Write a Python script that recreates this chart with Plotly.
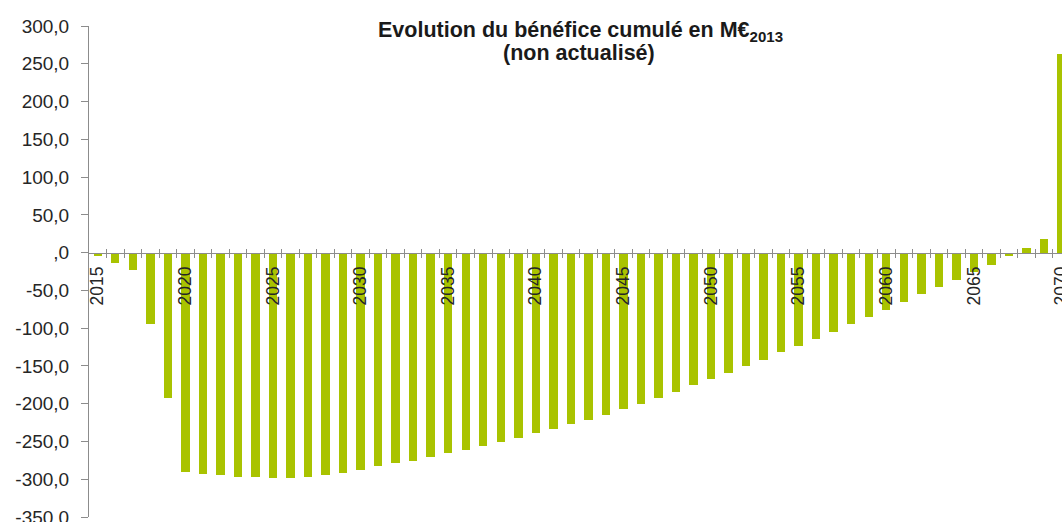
import plotly.graph_objects as go

years = list(range(2015, 2071))
benefice = [
    -4.5, -14, -23.5, -94.5, -192.5,
    -291, -293.5, -295, -296.5, -297.5,
    -298, -298, -297, -295, -291.5,
    -288, -283, -279, -275.5, -270.5,
    -265.5, -261, -255.5, -250.5, -245,
    -239, -233, -227, -221, -214.5,
    -207.5, -200, -192.5, -184, -175.5,
    -167.5, -159, -150, -141.5, -132,
    -123, -114.5, -104.5, -94.5, -85.5,
    -75.5, -65.5, -55, -45.5, -36,
    -26, -16.5, -4.5, 6.5, 17.5,
    263,
]

title_line1 = "<b>Evolution du bénéfice cumulé en M€<sub>2013</sub></b>"
title_line2 = "<b>(non actualisé)</b>"

y_ticks = [300, 250, 200, 150, 100, 50, 0, -50, -100, -150, -200, -250, -300, -350]
y_ticktext = ["300,0", "250,0", "200,0", "150,0", "100,0", "50,0", ",0", "-50,0",
              "-100,0", "-150,0", "-200,0", "-250,0", "-300,0", "-350,0"]
x_label_years = list(range(2015, 2071, 5))
boundaries = [y + 0.5 for y in years[:-1]]

YMIN, YMAX = -350, 300
XMIN, XMAX = 2014.5, 2070.03
zero_pos = (0 - YMIN) / (YMAX - YMIN)

W, H = 1062, 522
ML, MR, MT, MB = 89, 0, 26, 5
plot_w = W - ML - MR
plot_h = H - MT - MB


def px_to_paper_x(px):
    return (px - ML) / plot_w


def px_to_paper_y(py):
    return (H - MB - py) / plot_h


bar_color = "#A9C300"
axis_color = "#8C8C8C"
font_family = "Liberation Sans, Arial, sans-serif"

fig = go.Figure()
fig.add_trace(go.Bar(x=years, y=benefice, width=0.48, marker=dict(color=bar_color, line=dict(width=0)),
                     showlegend=False, hoverinfo="x+y"))
fig.add_trace(go.Scatter(x=[XMIN], y=[0], xaxis="x2", mode="markers",
                         marker=dict(size=1, opacity=0), showlegend=False, hoverinfo="skip"))

fig.add_annotation(text=title_line1, xref="paper", yref="paper",
                   x=px_to_paper_x(580), y=px_to_paper_y(31), xanchor="center", yanchor="middle",
                   showarrow=False, font=dict(size=21.5, family=font_family, color="#1a1a1a"))
fig.add_annotation(text=title_line2, xref="paper", yref="paper",
                   x=px_to_paper_x(579), y=px_to_paper_y(53), xanchor="center", yanchor="middle",
                   showarrow=False, font=dict(size=21.5, family=font_family, color="#1a1a1a"))

fig.update_layout(
    width=W, height=H,
    margin=dict(l=ML, r=MR, t=MT, b=MB, autoexpand=False),
    paper_bgcolor="white", plot_bgcolor="white",
    font=dict(family=font_family, color="#262626"),
    bargap=0,
    xaxis=dict(
        range=[XMIN, XMAX], anchor="free", position=zero_pos, automargin=False,
        showline=True, linecolor=axis_color, linewidth=1,
        showgrid=False, zeroline=False,
        tickmode="array", tickvals=x_label_years, ticktext=[str(v) for v in x_label_years],
        ticks="", tickangle=-90, tickfont=dict(size=17.5, color="#262626"),
        ticklabelstandoff=6, ticklabeloverflow="allow",
        minor=dict(tickmode="array", tickvals=boundaries, ticks="outside", ticklen=4,
                   tickcolor=axis_color, tickwidth=1, showgrid=False),
    ),
    xaxis2=dict(
        range=[XMIN, XMAX], overlaying="x", anchor="free", position=zero_pos, automargin=False,
        showline=False, showgrid=False, zeroline=False, showticklabels=False,
        tickmode="array", tickvals=boundaries, ticks="inside", ticklen=4,
        tickcolor=axis_color, tickwidth=1,
    ),
    yaxis=dict(
        range=[YMIN, YMAX], automargin=False, showline=True, linecolor=axis_color, linewidth=1,
        showgrid=False, zeroline=False,
        tickmode="array", tickvals=y_ticks, ticktext=y_ticktext,
        ticks="outside", ticklen=7, tickcolor=axis_color, tickwidth=1,
        tickfont=dict(size=19, color="#262626"), ticklabelstandoff=8,
        ticklabeloverflow="allow",
    ),
)

fig.write_html("out.html")
